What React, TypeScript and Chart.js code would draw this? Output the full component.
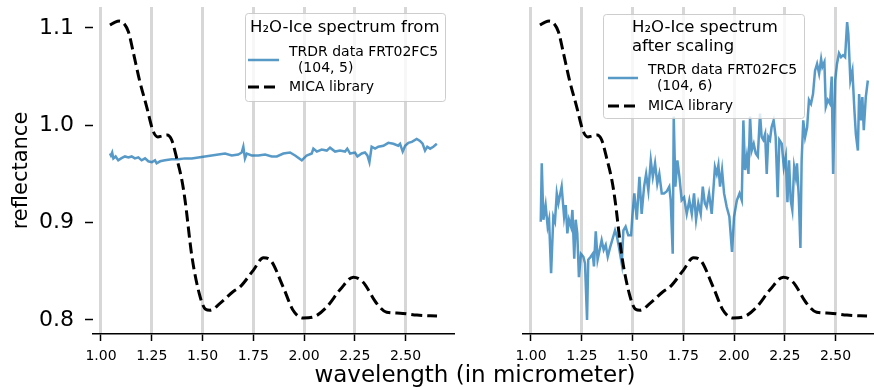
import React, { useEffect, useRef } from 'react';
import { Chart, registerables } from 'chart.js';

Chart.register(...registerables);

const FONT = '"DejaVu Sans"';

// ---- tick labels ----
const xTicks = [1.0, 1.25, 1.5, 1.75, 2.0, 2.25, 2.5];
const yTicks = [0.8, 0.9, 1.0, 1.1];

// ---- axis ranges (matplotlib-like 5% margins) ----
const X_MIN = 0.9606;
const X_MAX = 2.7337;
const Y_MIN = 0.7856;
const Y_MAX = 1.1215;

// ---- MICA library (dashed) ----
const micaWavelength = [
  1.044, 1.07, 1.09, 1.115, 1.135, 1.16, 1.19, 1.225, 1.255, 1.28, 1.3, 1.325, 1.348, 1.373,
  1.398, 1.414, 1.448, 1.488, 1.515, 1.537, 1.586, 1.65, 1.685, 1.75, 1.8, 1.832, 1.897, 1.946,
  1.995, 2.045, 2.11, 2.177, 2.243, 2.29, 2.358, 2.407, 2.473, 2.556, 2.655,
];
const micaReflectance = [
  1.103, 1.106, 1.107, 1.104, 1.096, 1.074, 1.046, 1.019, 0.995, 0.988, 0.989, 0.99, 0.985, 0.966,
  0.944, 0.923, 0.865, 0.824, 0.811, 0.81, 0.817, 0.829, 0.834, 0.851, 0.864, 0.862, 0.834, 0.81,
  0.802, 0.803, 0.813, 0.831, 0.844, 0.839, 0.817, 0.808, 0.807, 0.805, 0.804,
];

// ---- TRDR data FRT02FC5 (104, 5) ----
const trdrLeftWavelength = [
  1.044, 1.049, 1.055, 1.061, 1.072, 1.085, 1.099, 1.118, 1.135, 1.151, 1.167, 1.184, 1.2, 1.217,
  1.233, 1.25, 1.266, 1.274, 1.291, 1.315, 1.348, 1.381, 1.414, 1.447, 1.479, 1.512, 1.545, 1.578,
  1.611, 1.644, 1.676, 1.693, 1.701, 1.709, 1.718, 1.742, 1.775, 1.808, 1.841, 1.866, 1.898, 1.931,
  1.956, 1.989, 2.013, 2.038, 2.046, 2.063, 2.087, 2.112, 2.128, 2.153, 2.177, 2.202, 2.213, 2.227,
  2.251, 2.263, 2.284, 2.3, 2.312, 2.322, 2.333, 2.35, 2.366, 2.391, 2.415, 2.44, 2.464, 2.473,
  2.486, 2.498, 2.514, 2.531, 2.555, 2.571, 2.584, 2.596, 2.607, 2.621, 2.637, 2.654,
];
const trdrLeftReflectance = [
  0.971, 0.969, 0.972, 0.966, 0.968, 0.964, 0.966, 0.968, 0.967, 0.968, 0.966, 0.967, 0.964, 0.966,
  0.963, 0.962, 0.964, 0.961, 0.963, 0.964, 0.965, 0.965, 0.966, 0.966, 0.967, 0.968, 0.969, 0.97,
  0.971, 0.969, 0.97, 0.972, 0.978, 0.966, 0.971, 0.969, 0.969, 0.97, 0.968, 0.968, 0.971, 0.972,
  0.969, 0.964, 0.969, 0.971, 0.976, 0.973, 0.975, 0.974, 0.977, 0.973, 0.974, 0.973, 0.976, 0.971,
  0.972, 0.968, 0.971, 0.972, 0.969, 0.962, 0.978, 0.976, 0.978, 0.979, 0.982, 0.981, 0.979, 0.981,
  0.973, 0.979, 0.982, 0.983, 0.986, 0.984, 0.981, 0.974, 0.978, 0.976, 0.978, 0.981,
];

// ---- TRDR data FRT02FC5 (104, 6), after scaling ----
const trdrRightWavelength = [
  1.048, 1.053, 1.061, 1.072, 1.082, 1.089, 1.099, 1.11, 1.118, 1.127, 1.135, 1.151, 1.163, 1.171,
  1.179, 1.187, 1.197, 1.204, 1.213, 1.22, 1.228, 1.236, 1.246, 1.258, 1.266, 1.276, 1.282, 1.294,
  1.304, 1.31, 1.319, 1.328, 1.338, 1.348, 1.358, 1.368, 1.378, 1.389, 1.4, 1.414, 1.424, 1.433,
  1.447, 1.455, 1.466, 1.479, 1.493, 1.499, 1.509, 1.521, 1.534, 1.545, 1.557, 1.567, 1.578, 1.59,
  1.6, 1.611, 1.622, 1.632, 1.644, 1.655, 1.668, 1.681, 1.688, 1.698, 1.703, 1.711, 1.721, 1.731,
  1.742, 1.754, 1.767, 1.78, 1.792, 1.803, 1.813, 1.824, 1.836, 1.846, 1.856, 1.865, 1.877, 1.89,
  1.898, 1.906, 1.915, 1.923, 1.931, 1.941, 1.951, 1.964, 1.977, 1.99, 2.0, 2.014, 2.027, 2.038,
  2.046, 2.054, 2.063, 2.071, 2.079, 2.087, 2.097, 2.107, 2.117, 2.128, 2.136, 2.144, 2.153, 2.161,
  2.169, 2.177, 2.185, 2.195, 2.205, 2.215, 2.223, 2.235, 2.245, 2.255, 2.263, 2.271, 2.279, 2.287,
  2.296, 2.304, 2.31, 2.319, 2.327, 2.333, 2.341, 2.35, 2.36, 2.369, 2.379, 2.389, 2.399, 2.409,
  2.419, 2.429, 2.435, 2.445, 2.452, 2.462, 2.473, 2.481, 2.488, 2.498, 2.507, 2.517, 2.527, 2.537,
  2.547, 2.557, 2.563, 2.573, 2.583, 2.593, 2.6, 2.61, 2.616, 2.626, 2.632, 2.639, 2.649, 2.659,
];
const trdrRightReflectance = [
  0.901, 0.961, 0.903, 0.918, 0.896, 0.903, 0.848, 0.906, 0.901, 0.93, 0.92, 0.937, 0.906, 0.918,
  0.889, 0.903, 0.896, 0.913, 0.863, 0.903, 0.889, 0.844, 0.868, 0.865, 0.858, 0.8, 0.862, 0.865,
  0.868, 0.855, 0.891, 0.862, 0.872, 0.882, 0.872, 0.877, 0.865, 0.874, 0.882, 0.892, 0.885, 0.875,
  0.858, 0.892, 0.896, 0.887, 0.887, 0.906, 0.93, 0.903, 0.947, 0.909, 0.937, 0.95, 0.933, 0.964,
  0.947, 0.961, 0.94, 0.95, 0.93, 0.93, 0.932, 0.937, 0.923, 0.868, 1.009, 0.937, 0.964, 0.947,
  0.923, 0.926, 0.909, 0.923, 0.909, 0.93, 0.903, 0.92, 0.909, 0.937, 0.92, 0.916, 0.93, 0.909,
  0.933, 0.957, 0.95, 0.959, 0.937, 0.954, 0.93, 0.916, 0.906, 0.87, 0.906, 0.923, 0.93, 0.923,
  1.005, 0.954, 0.968, 0.95, 1.009, 0.974, 0.981, 0.971, 0.968, 1.012, 0.988, 0.985, 0.991, 0.95,
  0.988, 0.985, 0.998, 1.005, 0.988, 0.926, 0.985, 0.981, 0.957, 0.968, 0.921, 0.964, 0.923, 0.913,
  0.957, 0.947, 0.961, 0.926, 0.874, 0.964, 1.005, 0.988, 0.998, 1.026, 1.022, 1.032, 1.056, 1.063,
  1.053, 1.068, 1.06, 1.065, 1.019, 1.026, 1.022, 1.05, 0.95, 1.046, 1.063, 1.074, 1.07, 1.072,
  1.07, 1.106, 1.094, 1.046, 1.056, 1.015, 0.991, 0.974, 1.032, 1.005, 1.029, 0.995, 1.029, 1.046,
];

// ---- legend texts ----
const leftLegendTitle = ['H\u2082O-Ice spectrum from'];
const rightLegendTitle = ['H\u2082O-Ice spectrum', 'after scaling'];
const leftTrdrLabel = ['TRDR data FRT02FC5', '  (104, 5)'];
const rightTrdrLabel = ['TRDR data FRT02FC5', '  (104, 6)'];
const micaLabel = 'MICA library';

const BLUE = 'rgba(31,119,180,0.75)';
const GRID = '#d7d7d7';

const toPoints = (xs: number[], ys: number[]) => xs.map((x, i) => ({ x, y: ys[i] }));

type LegendCfg = {
  box: [number, number, number, number];
  titleX: number;
  titleY: number;
  titleLH: number;
  titleLines: string[];
  handleX: [number, number];
  textX: number;
  trdrLines: string[];
  trdrTextY: [number, number];
  trdrHandleY: number;
  micaY: number;
};

function legendPlugin(cfg: LegendCfg) {
  return {
    id: 'customLegend',
    afterDraw(chart: any) {
      const ctx = chart.ctx as CanvasRenderingContext2D;
      ctx.save();
      const [bx, by, bw, bh] = cfg.box;
      ctx.beginPath();
      const r = 3;
      ctx.moveTo(bx + r, by);
      ctx.arcTo(bx + bw, by, bx + bw, by + bh, r);
      ctx.arcTo(bx + bw, by + bh, bx, by + bh, r);
      ctx.arcTo(bx, by + bh, bx, by, r);
      ctx.arcTo(bx, by, bx + bw, by, r);
      ctx.closePath();
      ctx.fillStyle = 'rgba(255,255,255,0.8)';
      ctx.fill();
      ctx.strokeStyle = 'rgba(200,200,200,0.9)';
      ctx.lineWidth = 1;
      ctx.stroke();

      ctx.fillStyle = '#000';
      ctx.textAlign = 'left';
      ctx.textBaseline = 'middle';
      ctx.font = `16.5px ${FONT}`;
      cfg.titleLines.forEach((t, i) => ctx.fillText(t, cfg.titleX, cfg.titleY + i * cfg.titleLH));

      ctx.font = `14px ${FONT}`;
      cfg.trdrLines.forEach((t, i) => ctx.fillText(t, cfg.textX, cfg.trdrTextY[i]));
      ctx.fillText(micaLabel, cfg.textX, cfg.micaY);

      ctx.lineCap = 'butt';
      ctx.beginPath();
      ctx.strokeStyle = BLUE;
      ctx.lineWidth = 2.5;
      ctx.moveTo(cfg.handleX[0], cfg.trdrHandleY);
      ctx.lineTo(cfg.handleX[1], cfg.trdrHandleY);
      ctx.stroke();

      ctx.beginPath();
      ctx.strokeStyle = '#000';
      ctx.lineWidth = 3;
      ctx.setLineDash([11, 5]);
      ctx.moveTo(cfg.handleX[0], cfg.micaY);
      ctx.lineTo(cfg.handleX[1], cfg.micaY);
      ctx.stroke();
      ctx.restore();
    },
  };
}

function makeConfig(side: 'left' | 'right'): any {
  const isLeft = side === 'left';
  const trdr = isLeft
    ? toPoints(trdrLeftWavelength, trdrLeftReflectance)
    : toPoints(trdrRightWavelength, trdrRightReflectance);
  const legend: LegendCfg = isLeft
    ? {
        box: [245.5, 13.5, 200, 88],
        titleX: 250,
        titleY: 28,
        titleLH: 19,
        titleLines: leftLegendTitle,
        handleX: [248, 279],
        textX: 289,
        trdrLines: leftTrdrLabel,
        trdrTextY: [52, 68],
        trdrHandleY: 60,
        micaY: 87,
      }
    : {
        box: [603.5, 14.5, 201, 104],
        titleX: 632,
        titleY: 28,
        titleLH: 19,
        titleLines: rightLegendTitle,
        handleX: [608, 638],
        textX: 648,
        trdrLines: rightTrdrLabel,
        trdrTextY: [70, 86],
        trdrHandleY: 78,
        micaY: 106,
      };

  const canvasW = isLeft ? 874 : 900;
  const areaLeft = isLeft ? 93 : 523;
  const areaRight = isLeft ? 453 : 883;

  return {
    type: 'line',
    data: {
      datasets: [
        {
          label: isLeft ? 'TRDR data FRT02FC5 (104, 5)' : 'TRDR data FRT02FC5 (104, 6)',
          data: trdr,
          borderColor: BLUE,
          borderWidth: 2.5,
          pointRadius: 0,
          tension: 0,
          fill: false,
          order: 1,
        },
        {
          label: micaLabel,
          data: toPoints(micaWavelength, micaReflectance),
          borderColor: '#000',
          borderWidth: 3,
          borderDash: [11, 5],
          pointRadius: 0,
          cubicInterpolationMode: 'monotone',
          fill: false,
          order: 0,
        },
      ],
    },
    options: {
      animation: false,
      responsive: false,
      devicePixelRatio: 1,
      layout: {
        autoPadding: false,
        padding: { left: isLeft ? 0 : areaLeft, right: canvasW - areaRight, top: 7, bottom: 0 },
      },
      scales: {
        x: {
          type: 'linear',
          min: X_MIN,
          max: X_MAX,
          afterBuildTicks: (s: any) => {
            s.ticks = xTicks.map((v) => ({ value: v }));
          },
          afterFit: (s: any) => {
            s.height = 56;
            s.paddingLeft = 0;
            s.paddingRight = 0;
            s.paddingTop = 0;
            s.paddingBottom = 0;
          },
          ticks: {
            autoSkip: false,
            maxRotation: 0,
            color: '#000',
            padding: 7,
            font: { family: FONT, size: 14 },
            callback: (v: number) => Number(v).toFixed(2),
          },
          grid: {
            color: GRID,
            lineWidth: 3,
            drawTicks: true,
            tickLength: 7,
            tickColor: '#000',
            tickWidth: 1.5,
          },
          border: { display: true, color: '#000', width: 1.5 },
        },
        y: {
          type: 'linear',
          display: isLeft,
          min: Y_MIN,
          max: Y_MAX,
          afterBuildTicks: (s: any) => {
            s.ticks = yTicks.map((v) => ({ value: v }));
          },
          afterFit: (s: any) => {
            s.width = isLeft ? areaLeft : 0;
            s.paddingLeft = 0;
            s.paddingRight = 0;
            s.paddingTop = 0;
            s.paddingBottom = 0;
          },
          ticks: {
            autoSkip: false,
            color: '#000',
            padding: 11,
            font: { family: FONT, size: 22 },
            callback: (v: number) => Number(v).toFixed(1),
          },
          grid: {
            drawOnChartArea: false,
            drawTicks: true,
            tickLength: 8,
            tickColor: '#000',
            tickWidth: 1.5,
          },
          border: { display: false },
          title: {
            display: true,
            text: 'reflectance',
            color: '#000',
            font: { family: FONT, size: 21 },
            padding: { top: 9, bottom: 0 },
          },
        },
      },
      plugins: {
        legend: { display: false },
        tooltip: { enabled: false },
      },
    },
    plugins: [legendPlugin(legend)],
  };
}

export default function App() {
  const leftRef = useRef<HTMLCanvasElement>(null);
  const rightRef = useRef<HTMLCanvasElement>(null);

  useEffect(() => {
    const l = new Chart(leftRef.current as HTMLCanvasElement, makeConfig('left'));
    const r = new Chart(rightRef.current as HTMLCanvasElement, makeConfig('right'));
    return () => {
      l.destroy();
      r.destroy();
    };
  }, []);

  return (
    <div
      style={{
        position: 'absolute',
        left: 0,
        top: 0,
        width: 874,
        height: 390,
        overflow: 'hidden',
        background: '#fff',
      }}
    >
      <canvas
        ref={leftRef}
        width={874}
        height={390}
        style={{ position: 'absolute', left: 0, top: 0, width: 874, height: 390 }}
      />
      <canvas
        ref={rightRef}
        width={900}
        height={390}
        style={{ position: 'absolute', left: 0, top: 0, width: 900, height: 390 }}
      />
      <div
        style={{
          position: 'absolute',
          left: 275,
          top: 360,
          width: 400,
          textAlign: 'center',
          fontFamily: FONT,
          fontSize: 23,
          lineHeight: '28px',
          whiteSpace: 'nowrap',
          color: '#000',
        }}
      >
        wavelength (in micrometer)
      </div>
    </div>
  );
}
